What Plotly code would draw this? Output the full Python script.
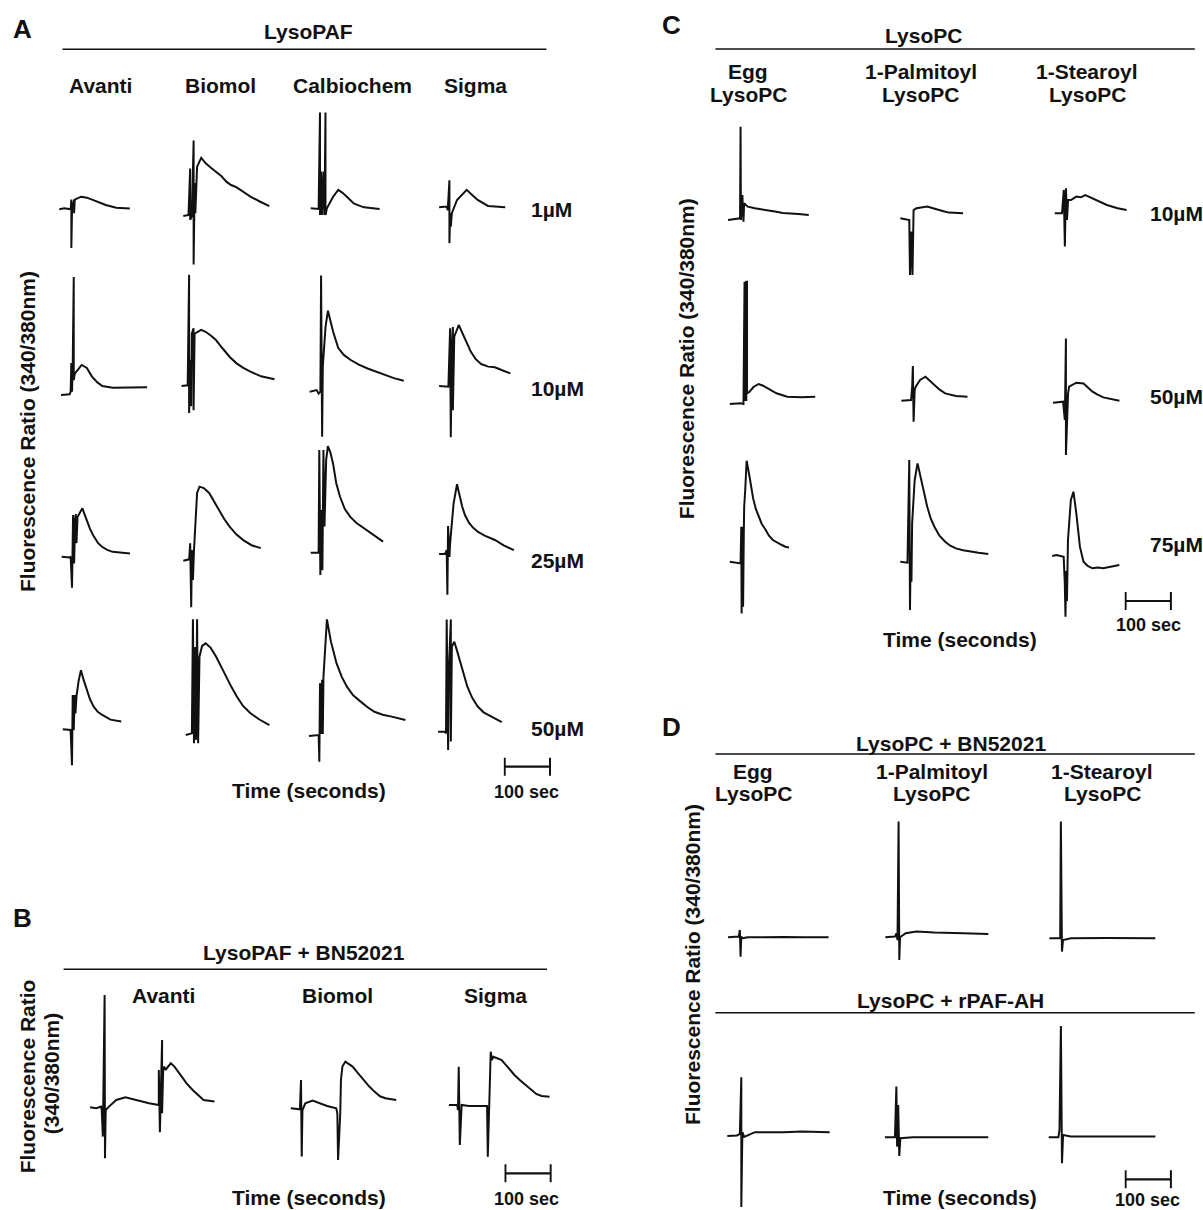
import plotly.graph_objects as go

W, H = 1203, 1210
PX_PER_S = 0.455          # 100 s = 45.5 px
FONT = "Liberation Sans, Arial, Helvetica, sans-serif"
INK = "#111111"

# ---------------- labels ----------------
A_TITLE = "LysoPAF"
A_COLUMNS = ["Avanti", "Biomol", "Calbiochem", "Sigma"]
A_CONCS = ["1µM", "10µM", "25µM", "50µM"]
B_TITLE = "LysoPAF + BN52021"
B_COLUMNS = ["Avanti", "Biomol", "Sigma"]
C_TITLE = "LysoPC"
C_COLUMNS_1 = ["Egg", "1-Palmitoyl", "1-Stearoyl"]
C_COLUMNS_2 = ["LysoPC", "LysoPC", "LysoPC"]
C_CONCS = ["10µM", "50µM", "75µM"]
D_TITLE_1 = "LysoPC + BN52021"
D_TITLE_2 = "LysoPC + rPAF-AH"
Y_LABEL = "Fluorescence Ratio (340/380nm)"
X_LABEL = "Time (seconds)"
SCALE_LABEL = "100 sec"
SCALE_SECONDS = 100

# ---------------- trace data: time (s) / fluorescence ratio ----------------
# Panel A  (LysoPAF)
A_1UM_AVANTI_T = [0, 11, 25, 26.5, 26.5, 28, 32.5, 32.5, 34, 47.7, 60.6, 72, 88, 102, 125, 140, 155]
A_1UM_AVANTI_R = [1.00, 1.01, 1.00, 1.10, 0.60, 0.99, 1.10, 0.96, 1.10, 1.13, 1.12, 1.10, 1.07, 1.045, 1.017, 1.01, 1.007]
A_1UM_BIOMOL_T = [0, 11.4, 15.1, 15.1, 18.9, 22.7, 22.7, 25, 26.5, 30.3, 39.4, 49.2, 60, 72, 84, 94.6, 105, 117.3, 132, 147.6, 168, 189]
A_1UM_BIOMOL_R = [1.00, 1.01, 1.49, 0.96, 1.00, 1.78, 0.50, 1.34, 1.03, 1.51, 1.60, 1.544, 1.50, 1.458, 1.41, 1.355, 1.32, 1.296, 1.25, 1.20, 1.15, 1.103]
A_1UM_CALB_T = [0, 17.4, 20.4, 20.4, 22.7, 25, 28, 30.3, 32.5, 32.5, 35.6, 49.2, 60.6, 70, 79.5, 94.6, 105, 117.3, 151.4]
A_1UM_CALB_R = [1.00, 0.993, 1.99, 0.93, 1.38, 0.93, 1.38, 0.93, 1.99, 0.93, 1.00, 1.12, 1.19, 1.16, 1.12, 1.05, 1.03, 1.01, 0.993]
A_1UM_SIGMA_T = [0, 16.7, 19, 22.7, 22.7, 24.2, 25.7, 28, 39.4, 60.6, 72, 84.8, 107.5, 125, 145.3]
A_1UM_SIGMA_R = [1.00, 1.007, 0.97, 1.28, 0.63, 0.94, 0.80, 0.94, 1.076, 1.18, 1.13, 1.076, 1.014, 1.005, 1.00]

A_10UM_AVANTI_T = [0, 19, 21.2, 22.7, 24.2, 25.7, 28, 28, 30.3, 45.4, 56.8, 68.1, 80, 90.8, 113.6, 151.4, 189.3]
A_10UM_AVANTI_R = [1.00, 1.007, 1.034, 1.33, 1.034, 1.29, 2.22, 1.155, 1.22, 1.31, 1.28, 1.19, 1.13, 1.093, 1.076, 1.076, 1.079]
A_10UM_BIOMOL_T = [0, 13.6, 16.7, 16.7, 18.9, 21.2, 22.7, 26.5, 26.5, 28.8, 43.2, 53, 65, 75.7, 90, 106, 121, 135, 151.4, 175, 204.4]
A_10UM_BIOMOL_R = [1.00, 1.007, 2.15, 0.72, 1.27, 0.79, 1.54, 1.596, 0.75, 1.54, 1.58, 1.56, 1.52, 1.475, 1.39, 1.30, 1.234, 1.19, 1.148, 1.10, 1.069]
A_10UM_CALB_T = [0, 15.1, 19.7, 23.5, 25, 27.3, 28.8, 34.8, 40.1, 51.5, 62.8, 75, 89.3, 108, 127.2, 145, 165, 185, 206.7]
A_10UM_CALB_R = [1.00, 1.017, 0.98, 1.00, 2.20, 0.535, 1.26, 1.67, 1.837, 1.62, 1.45, 1.38, 1.33, 1.28, 1.24, 1.21, 1.17, 1.14, 1.114]
A_10UM_SIGMA_T = [0, 16.7, 20.4, 24.2, 25.7, 28, 30.3, 30.3, 33.3, 43.2, 54.5, 69.6, 80, 92.4, 108, 122.6, 140, 156.7]
A_10UM_SIGMA_R = [1.00, 1.00, 0.993, 1.596, 0.47, 1.41, 1.61, 0.75, 1.51, 1.63, 1.51, 1.355, 1.28, 1.227, 1.20, 1.193, 1.16, 1.13]

A_25UM_AVANTI_T = [0, 17.4, 19.7, 22.7, 25, 27.3, 29.5, 31, 32.5, 34.8, 45.4, 55.3, 62, 70.4, 80, 89.3, 100, 112, 130, 150]
A_25UM_AVANTI_R = [1.00, 0.993, 1.00, 0.68, 1.43, 0.93, 1.38, 1.44, 1.14, 1.41, 1.50, 1.38, 1.29, 1.21, 1.14, 1.10, 1.07, 1.05, 1.04, 1.034]
A_25UM_BIOMOL_T = [0, 12.9, 15.1, 17.4, 18.9, 21.2, 23.5, 30.3, 35.6, 45, 56.8, 68, 79.5, 90, 102.2, 117, 132.5, 150, 170.3]
A_25UM_BIOMOL_R = [1.00, 1.014, 1.18, 0.52, 1.11, 0.80, 1.11, 1.70, 1.765, 1.75, 1.70, 1.61, 1.52, 1.43, 1.35, 1.27, 1.21, 1.16, 1.13]
A_25UM_CALB_T = [0, 12.9, 17.4, 18.9, 21.2, 23.5, 25.7, 28, 30.3, 34, 37.8, 43, 49.2, 56, 64.3, 75, 87, 100, 117.3, 138, 159]
A_25UM_CALB_R = [1.00, 1.00, 1.00, 2.06, 0.77, 1.44, 0.82, 2.06, 1.27, 1.96, 2.10, 2.04, 1.92, 1.72, 1.58, 1.45, 1.37, 1.31, 1.25, 1.18, 1.114]
A_25UM_SIGMA_T = [0, 12.9, 16.7, 18.2, 19.7, 22.7, 24.2, 31.8, 39.4, 45, 50.7, 57, 65.9, 75, 84.8, 100, 122.6, 142, 164.3]
A_25UM_SIGMA_R = [1.00, 1.00, 1.04, 0.58, 1.29, 0.97, 1.11, 1.52, 1.72, 1.60, 1.49, 1.40, 1.32, 1.27, 1.23, 1.19, 1.145, 1.09, 1.04]

A_50UM_AVANTI_T = [0, 15.1, 17.4, 20.4, 22, 24.2, 26.5, 28, 30.3, 35, 40.1, 46, 53, 60, 68.1, 77, 87, 105, 128.7]
A_50UM_AVANTI_R = [1.00, 1.00, 0.993, 0.63, 1.355, 0.99, 1.355, 1.165, 1.34, 1.50, 1.61, 1.51, 1.41, 1.31, 1.234, 1.18, 1.148, 1.10, 1.08]
A_50UM_BIOMOL_T = [0, 13.6, 15.9, 18.2, 20.4, 22.7, 25, 27.3, 30.3, 36, 43.9, 55, 66.6, 78, 89.3, 100, 112, 126, 142.3, 162, 184]
A_50UM_BIOMOL_R = [1.00, 1.017, 2.195, 0.914, 1.91, 0.95, 2.195, 0.914, 1.81, 1.92, 1.947, 1.90, 1.81, 1.71, 1.60, 1.50, 1.40, 1.30, 1.224, 1.16, 1.103]
A_50UM_CALB_T = [0, 18.9, 21.2, 22.7, 24.2, 26.5, 28.8, 30.3, 31.8, 39.4, 48, 60.6, 72, 83.3, 97, 113.6, 128, 143.8, 162, 181.7, 212]
A_50UM_CALB_R = [1.00, 1.01, 1.01, 0.735, 1.544, 1.02, 1.58, 1.02, 1.613, 2.205, 1.98, 1.75, 1.61, 1.51, 1.42, 1.355, 1.30, 1.25, 1.22, 1.20, 1.165]
A_50UM_SIGMA_T = [0, 15.1, 17.4, 18.9, 22, 24.2, 28, 28, 30.3, 35.6, 42, 49.2, 56, 64.3, 75, 87, 100, 117.3, 140]
A_50UM_SIGMA_R = [1.00, 1.00, 0.983, 2.16, 0.81, 1.71, 2.16, 0.90, 1.88, 1.93, 1.83, 1.71, 1.58, 1.465, 1.35, 1.26, 1.20, 1.155, 1.10]

# Panel B  (LysoPAF + BN52021)
B_AVANTI_T = [0, 13.6, 24, 25.6, 28, 31.9, 32.7, 34.3, 41.5, 57.5, 77.5, 105.5, 129.5, 151, 151, 153.4,
              155.8, 158.2, 158.2, 160.6, 163, 165.4, 177.4, 185.4, 201.4, 212, 225.4, 237, 249.4, 273.4]
B_AVANTI_R = [1.00, 0.99, 1.007, 0.973, 0.707, 2.123, 0.49, 0.973, 1.007, 1.073, 1.10, 1.067, 1.04, 1.023, 1.373, 0.75,
              1.373, 1.673, 0.94, 1.373, 1.407, 1.373, 1.44, 1.407, 1.307, 1.24, 1.173, 1.12, 1.073, 1.057]
B_BIOMOL_T = [0, 20, 22.4, 24, 25.6, 31.9, 47.9, 63.9, 79.9, 99.9, 102.3, 103.9, 106.3, 108.7, 110.2, 113.4,
              119.9, 135.8, 148, 159.8, 172, 183.8, 196, 207.8, 231.7]
B_BIOMOL_R = [1.00, 0.99, 1.283, 0.517, 0.983, 1.05, 1.077, 1.05, 1.023, 1.00, 0.95, 0.483, 0.717, 0.95, 1.283, 1.417,
              1.467, 1.417, 1.35, 1.283, 1.22, 1.167, 1.12, 1.10, 1.083]
B_SIGMA_T = [0, 18.4, 20, 21.6, 24, 26.4, 28, 43.9, 67.9, 83.9, 85.5, 87.9, 91.9, 94.3, 97.5, 106.3, 115.9,
             131.8, 144, 155.8, 168, 179.8, 192, 203.7, 221.3]
B_SIGMA_R = [1.00, 1.00, 0.95, 1.383, 0.60, 0.95, 1.00, 0.99, 0.99, 0.99, 0.483, 0.93, 1.533, 1.45, 1.483, 1.467, 1.45,
             1.367, 1.30, 1.25, 1.20, 1.15, 1.11, 1.09, 1.083]

# Panel C  (LysoPC)
C_10UM_EGG_T = [0, 19.7, 26.5, 27.6, 28.4, 31.6, 34, 35.5, 43.4, 59.2, 75, 90, 106.5, 120, 138, 155, 177.5]
C_10UM_EGG_R = [1.00, 1.017, 1.017, 1.933, 1.00, 1.25, 0.983, 1.167, 1.133, 1.117, 1.107, 1.09, 1.083, 1.07, 1.067, 1.06, 1.05]
C_10UM_PALM_T = [0, 15.8, 19.7, 21.3, 24.5, 26.8, 29.2, 35.5, 47, 59.2, 72, 82.8, 95, 106.5, 122, 138]
C_10UM_PALM_R = [1.00, 0.983, 0.983, 0.433, 0.867, 0.433, 1.083, 1.10, 1.11, 1.117, 1.10, 1.083, 1.07, 1.057, 1.055, 1.05]
C_10UM_STEAR_T = [0, 15.8, 19.7, 22.1, 24.5, 26.8, 29.2, 35.5, 47.4, 57, 67.1, 78, 90.8, 102, 114.5, 138.1, 157.8]
C_10UM_STEAR_R = [1.00, 1.00, 1.233, 0.667, 1.25, 0.933, 1.133, 1.133, 1.167, 1.16, 1.183, 1.16, 1.133, 1.11, 1.083, 1.05, 1.033]

C_50UM_EGG_T = [0, 23.7, 30.0, 30.8, 32.4, 32.4, 36.3, 36.3, 37.9, 37.9, 43.4, 52, 63.1, 72, 82.8, 102.6, 126.2, 157.8, 187.8]
C_50UM_EGG_R = [1.00, 1.007, 1.00, 2.223, 2.223, 1.04, 1.04, 2.223, 2.223, 1.107, 1.123, 1.17, 1.20, 1.185, 1.157, 1.107, 1.073, 1.067, 1.073]
C_50UM_PALM_T = [0, 21.3, 23.7, 25.2, 26.8, 29.2, 31.6, 41, 52.9, 62, 72.6, 84, 96.3, 120, 145.2]
C_50UM_PALM_R = [1.00, 1.007, 1.14, 1.347, 0.79, 1.107, 1.14, 1.207, 1.24, 1.20, 1.157, 1.11, 1.073, 1.047, 1.04]
C_50UM_STEAR_T = [0, 22.1, 26, 28.4, 28.4, 30.8, 33.1, 35.5, 51.3, 67.1, 77, 86.8, 98, 110.5, 146]
C_50UM_STEAR_R = [1.00, 1.01, 0.827, 1.643, 0.477, 0.957, 1.093, 1.16, 1.20, 1.193, 1.15, 1.11, 1.08, 1.053, 1.02]

C_75UM_EGG_T = [0, 19.7, 23.7, 25.2, 26, 27.6, 29.2, 30.8, 31.6, 33.9, 37, 43.4, 51.3, 57, 63.1, 70, 78.9, 86, 94.7, 104, 114.5, 122, 130.2]
C_75UM_EGG_R = [1.00, 0.99, 0.983, 1.35, 0.483, 1.35, 0.55, 1.30, 1.55, 1.717, 2.01, 1.85, 1.633, 1.53, 1.467, 1.38, 1.317, 1.26, 1.217, 1.19, 1.167, 1.15, 1.143]
C_75UM_PALM_T = [0, 15.8, 19.7, 21.3, 22.9, 24.5, 26, 31.6, 37.9, 47.4, 59.2, 67, 75, 86, 98.6, 110, 122.3, 138, 153.9, 172, 193.3]
C_75UM_PALM_R = [1.00, 0.99, 2.017, 0.517, 1.10, 0.80, 1.383, 1.817, 1.983, 1.783, 1.55, 1.43, 1.35, 1.26, 1.20, 1.16, 1.133, 1.115, 1.10, 1.09, 1.077]
C_75UM_STEAR_T = [0, 9.5, 25.2, 27.6, 29.2, 30.8, 32.4, 34.7, 41, 46.7, 53, 60.9, 68.8, 78, 88.4, 100, 112, 130, 147.6]
C_75UM_STEAR_R = [1.00, 1.01, 0.993, 0.74, 0.393, 0.85, 0.55, 1.16, 1.56, 1.643, 1.427, 1.093, 0.943, 0.90, 0.877, 0.885, 0.877, 0.895, 0.91]

# Panel D  (LysoPC + BN52021 / LysoPC + rPAF-AH)
D_BN_EGG_T = [0, 23.7, 26, 27.6, 29.2, 30.8, 43.4, 80, 122.3, 170, 221]
D_BN_EGG_R = [1.00, 1.007, 1.073, 0.807, 1.01, 0.99, 1.00, 1.003, 1.003, 1.00, 1.00]
D_BN_PALM_T = [0, 21.3, 24.5, 26.8, 29.2, 30.8, 32.4, 44.9, 68.6, 108, 171.2, 226.5]
D_BN_PALM_R = [1.00, 1.007, 1.04, 0.973, 2.157, 0.773, 1.00, 1.04, 1.057, 1.047, 1.04, 1.033]
D_BN_STEAR_T = [0, 23.7, 25.2, 27.6, 30, 47.4, 126.2, 232.8]
D_BN_STEAR_R = [1.00, 1.00, 2.167, 0.867, 0.983, 1.00, 1.003, 1.00]

D_AH_EGG_T = [0, 21.3, 27.6, 30.8, 30.8, 33.1, 37, 60.8, 123.9, 163.4, 225]
D_AH_EGG_R = [1.00, 1.007, 1.023, 1.60, 0.277, 1.04, 0.993, 1.04, 1.04, 1.047, 1.04]
D_AH_PALM_T = [0, 22.1, 25.2, 26.8, 29.2, 31.6, 34, 61.5, 132.5, 227.2]
D_AH_PALM_R = [1.00, 1.00, 1.507, 0.907, 1.323, 0.813, 0.99, 1.00, 1.00, 1.00]
D_AH_STEAR_T = [0, 21.3, 23.7, 26.8, 29.2, 31.6, 48.9, 127.8, 234.4]
D_AH_STEAR_R = [1.00, 1.00, 1.073, 2.113, 0.74, 1.023, 1.007, 1.007, 1.007]

# ---------------- placement (pixel position of t=0 / baseline, px per ratio unit) ----------------
KA, KO = 96.8, 100.0
PLACEMENT = [
    (A_1UM_AVANTI_T, A_1UM_AVANTI_R, 59.3, 209.3, KA),
    (A_1UM_BIOMOL_T, A_1UM_BIOMOL_R, 183.3, 216.0, KA),
    (A_1UM_CALB_T, A_1UM_CALB_R, 310.7, 208.3, KA),
    (A_1UM_SIGMA_T, A_1UM_SIGMA_R, 439.1, 207.3, KA),
    (A_10UM_AVANTI_T, A_10UM_AVANTI_R, 61.0, 395.0, KA),
    (A_10UM_BIOMOL_T, A_10UM_BIOMOL_R, 181.5, 386.0, KA),
    (A_10UM_CALB_T, A_10UM_CALB_R, 309.7, 391.7, KA),
    (A_10UM_SIGMA_T, A_10UM_SIGMA_R, 439.1, 386.0, KA),
    (A_25UM_AVANTI_T, A_25UM_AVANTI_R, 61.7, 556.7, KA),
    (A_25UM_BIOMOL_T, A_25UM_BIOMOL_R, 183.3, 560.7, KA),
    (A_25UM_CALB_T, A_25UM_CALB_R, 310.7, 552.7, KA),
    (A_25UM_SIGMA_T, A_25UM_SIGMA_R, 439.1, 554.0, KA),
    (A_50UM_AVANTI_T, A_50UM_AVANTI_R, 62.7, 729.3, KA),
    (A_50UM_BIOMOL_T, A_50UM_BIOMOL_R, 185.7, 735.0, KA),
    (A_50UM_CALB_T, A_50UM_CALB_R, 309.0, 736.0, KA),
    (A_50UM_SIGMA_T, A_50UM_SIGMA_R, 438.1, 731.7, KA),
    (B_AVANTI_T, B_AVANTI_R, 90.1, 1107.3, KO),
    (B_BIOMOL_T, B_BIOMOL_R, 290.8, 1108.3, KO),
    (B_SIGMA_T, B_SIGMA_R, 448.9, 1105.0, KO),
    (C_10UM_EGG_T, C_10UM_EGG_R, 728.0, 220.0, KO),
    (C_10UM_PALM_T, C_10UM_PALM_R, 900.3, 218.3, KO),
    (C_10UM_STEAR_T, C_10UM_STEAR_R, 1054.8, 213.3, KO),
    (C_50UM_EGG_T, C_50UM_EGG_R, 729.8, 404.0, KO),
    (C_50UM_PALM_T, C_50UM_PALM_R, 901.4, 400.7, KO),
    (C_50UM_STEAR_T, C_50UM_STEAR_R, 1053.0, 402.7, KO),
    (C_75UM_EGG_T, C_75UM_EGG_R, 729.8, 561.7, KO),
    (C_75UM_PALM_T, C_75UM_PALM_R, 900.3, 561.7, KO),
    (C_75UM_STEAR_T, C_75UM_STEAR_R, 1052.2, 556.0, KO),
    (D_BN_EGG_T, D_BN_EGG_R, 728.0, 937.3, KO),
    (D_BN_PALM_T, D_BN_PALM_R, 885.3, 937.3, KO),
    (D_BN_STEAR_T, D_BN_STEAR_R, 1049.4, 938.3, KO),
    (D_AH_EGG_T, D_AH_EGG_R, 727.3, 1137.3, KO),
    (D_AH_PALM_T, D_AH_PALM_R, 884.9, 1137.3, KO),
    (D_AH_STEAR_T, D_AH_STEAR_R, 1048.7, 1137.3, KO),
]
SCALE_BARS = [(504.6, 766.7), (505.3, 1173.3), (1125.5, 601.0), (1125.5, 1179.3)]

fig = go.Figure()
layout_axes = {}


def clamp(v):
    return max(0.0, min(1.0, v))


def add_axes(i, xr, yr, xdom, ydom):
    suffix = "" if i == 1 else str(i)
    common = dict(visible=False, showgrid=False, zeroline=False, fixedrange=True)
    layout_axes["xaxis" + suffix] = dict(range=xr, domain=[clamp(xdom[0]), clamp(xdom[1])],
                                         anchor="y" + suffix, **common)
    layout_axes["yaxis" + suffix] = dict(range=yr, domain=[clamp(ydom[0]), clamp(ydom[1])],
                                         anchor="x" + suffix, **common)
    return "x" + suffix, "y" + suffix


idx = 0
for T, R, x0, y0, k in PLACEMENT:
    idx += 1
    pt, pr = 3.0, 0.03
    t0, t1 = min(T) - pt, max(T) + pt
    r0, r1 = min(R) - pr, max(R) + pr
    xdom = ((x0 + t0 * PX_PER_S) / W, (x0 + t1 * PX_PER_S) / W)
    ypix = lambda r: y0 - (r - 1.0) * k
    ydom = (1 - ypix(r0) / H, 1 - ypix(r1) / H)
    xa, ya = add_axes(idx, [t0, t1], [r0, r1], xdom, ydom)
    fig.add_trace(go.Scatter(x=T, y=R, mode="lines", xaxis=xa, yaxis=ya,
                             line=dict(color=INK, width=2.0), hoverinfo="skip",
                             showlegend=False, cliponaxis=False))

# 100-second scale bars drawn on their own time axes
TICK = 9.0
for bx, by in SCALE_BARS:
    idx += 1
    t0, t1 = -2.0, SCALE_SECONDS + 2.0
    xdom = ((bx + t0 * PX_PER_S) / W, (bx + t1 * PX_PER_S) / W)
    ydom = (1 - (by + TICK * 1.2) / H, 1 - (by - TICK * 1.2) / H)
    xa, ya = add_axes(idx, [t0, t1], [-1.2, 1.2], xdom, ydom)
    fig.add_trace(go.Scatter(x=[0, 0, None, 0, SCALE_SECONDS, None, SCALE_SECONDS, SCALE_SECONDS],
                             y=[-1, 1, None, 0, 0, None, -1, 1], mode="lines", xaxis=xa, yaxis=ya,
                             line=dict(color=INK, width=2.2), hoverinfo="skip", showlegend=False,
                             cliponaxis=False))

annotations = []


def txt(text, x, y, size=21, angle=0, xanchor="center"):
    annotations.append(dict(text="<b>" + text + "</b>", x=x / W, y=1 - y / H, xref="paper", yref="paper",
                            showarrow=False, xanchor=xanchor, yanchor="middle", textangle=angle,
                            borderpad=0, font=dict(family=FONT, size=size, color=INK)))


# Panel letters
txt("A", 22, 29, size=26)
txt("B", 22, 918, size=26)
txt("C", 671, 25, size=26)
txt("D", 671, 727, size=26)

# Panel A
txt(A_TITLE, 308, 32)
for name, x in zip(A_COLUMNS, [100, 220, 352, 475]):
    txt(name, x, 86)
for name, y in zip(A_CONCS, [209.3, 388.3, 560, 728.3]):
    txt(name, 529.5, y, xanchor="left")
txt(Y_LABEL, 27, 432, angle=-90)
txt(X_LABEL, 309, 790)
txt(SCALE_LABEL, 526, 792, size=18)

# Panel B
txt(B_TITLE, 303.5, 952)
for name, x in zip(B_COLUMNS, [163, 337.3, 495]):
    txt(name, x, 995)
txt(Y_LABEL.split(" (")[0], 27.3, 1076, angle=-90)
txt("(" + Y_LABEL.split(" (")[1], 50.9, 1073.3, angle=-90)
txt(X_LABEL, 309, 1197)
txt(SCALE_LABEL, 526, 1199, size=18)

# Panel C
txt(C_TITLE, 923.7, 35)
for n1, n2, x in zip(C_COLUMNS_1, C_COLUMNS_2, [748, 921, 1087]):
    txt(n1, x, 72)
    txt(n2, x, 94.3)
for name, y in zip(C_CONCS, [213.3, 396.7, 545]):
    txt(name, 1149, y, xanchor="left")
txt(Y_LABEL, 686.7, 358.5, angle=-90)
txt(X_LABEL, 959.6, 639.3)
txt(SCALE_LABEL, 1148, 625, size=18)

# Panel D
txt(D_TITLE_1, 950.6, 743.3)
for n1, n2, x in zip(C_COLUMNS_1, C_COLUMNS_2, [753, 931.5, 1102]):
    txt(n1, x, 771.7)
    txt(n2, x, 793.3)
txt(D_TITLE_2, 950.6, 1000)
txt(Y_LABEL, 692, 965, angle=-90)
txt(X_LABEL, 959.6, 1197.5)
txt(SCALE_LABEL, 1147, 1199.5, size=18)

# header rules
RULES = [(62.5, 546.4, 49.3), (63.6, 547.0, 969.3), (715.4, 1194.8, 49.0),
         (715.4, 1194.8, 754.0), (715.4, 1194.8, 1012.7)]
shapes = [dict(type="line", xref="paper", yref="paper", x0=a / W, x1=b / W, y0=1 - y / H, y1=1 - y / H,
               line=dict(color=INK, width=1.5)) for a, b, y in RULES]

fig.update_layout(width=W, height=H, autosize=False, margin=dict(l=0, r=0, t=0, b=0, pad=0),
                  paper_bgcolor="white", plot_bgcolor="rgba(0,0,0,0)", showlegend=False,
                  annotations=annotations, shapes=shapes, **layout_axes)

fig.write_html("out.html", config={"displayModeBar": False},
               post_script="document.body.style.margin='0';")
